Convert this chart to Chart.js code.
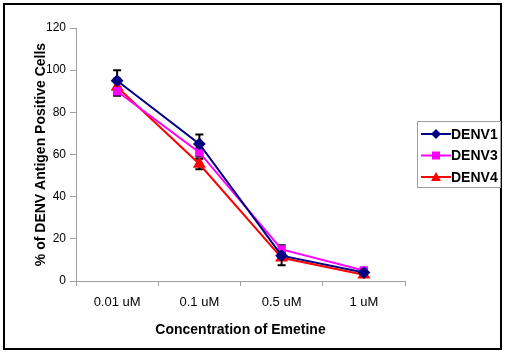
<!DOCTYPE html>
<html>
<head>
<meta charset="utf-8">
<script src="https://cdn.jsdelivr.net/npm/chart.js@4/dist/chart.umd.min.js"></script>
<style>
  body { margin: 0; background: #fff; }
  #wrap { width: 506px; height: 354px; position: relative; }
</style>
</head>
<body>
<div id="wrap"><canvas id="chart" width="506" height="354"></canvas></div>
<script>
const concentrations = ['0.01 uM', '0.1 uM', '0.5 uM', '1 uM'];
const denv1 = [95, 65, 12, 4];
const denv3 = [90, 61, 15, 5];
const denv4 = [92, 55.5, 11, 3];
const denv1Err = [5, 4.5, 2, 1];
const denv3Err = [2, 2, 2, 1];
const denv4Err = [4, 2.5, 3.5, 1];
const yTicks = [0, 20, 40, 60, 80, 100, 120];

const FONT = '"Liberation Sans", Arial, sans-serif';

// error bars, drawn from the scales
const errorBars = {
    id: 'errorBars',
    beforeDatasetsDraw(chart) {
        const ctx = chart.ctx;
        const x = chart.scales.x, y = chart.scales.y;
        ctx.save();
        ctx.strokeStyle = '#000';
        ctx.lineWidth = 2;
        chart.data.datasets.forEach(ds => {
            ds.data.forEach((v, i) => {
                const e = ds.errors[i];
                const px = x.getPixelForValue(i);
                const top = y.getPixelForValue(v + e);
                const bot = y.getPixelForValue(v - e);
                ctx.beginPath();
                ctx.moveTo(px, top); ctx.lineTo(px, bot);
                ctx.moveTo(px - 4, top); ctx.lineTo(px + 4, top);
                ctx.moveTo(px - 4, bot); ctx.lineTo(px + 4, bot);
                ctx.stroke();
            });
        });
        ctx.restore();
    }
};

// outer frame and boxed legend with line + marker
const frameLegend = {
    id: 'frameLegend',
    afterDraw(chart) {
        const ctx = chart.ctx;
        ctx.save();
        ctx.strokeStyle = '#000';
        ctx.lineWidth = 2;
        ctx.strokeRect(4, 4, 497, 345);

        const bx = 417, by = 121, bw = 83, bh = 66;
        ctx.lineWidth = 1;
        ctx.strokeStyle = '#a0a0a0';
        ctx.strokeRect(bx + 0.5, by + 0.5, bw, bh);

        ctx.font = 'bold 14px ' + FONT;
        ctx.textBaseline = 'middle';
        chart.data.datasets.forEach((ds, i) => {
            const cy = by + 13 + i * 21.5;
            ctx.strokeStyle = ds.borderColor;
            ctx.lineWidth = 2;
            ctx.beginPath();
            ctx.moveTo(bx + 4, cy); ctx.lineTo(bx + 34, cy);
            ctx.stroke();
            ctx.fillStyle = ds.borderColor;
            ctx.beginPath();
            const mx = bx + 19;
            if (ds.pointStyle === 'rectRot') {
                ctx.moveTo(mx, cy - 5); ctx.lineTo(mx + 5, cy); ctx.lineTo(mx, cy + 5); ctx.lineTo(mx - 5, cy);
            } else if (ds.pointStyle === 'rect') {
                ctx.rect(mx - 4, cy - 4, 8, 8);
            } else {
                ctx.moveTo(mx, cy - 5); ctx.lineTo(mx + 5, cy + 4); ctx.lineTo(mx - 5, cy + 4);
            }
            ctx.closePath();
            ctx.fill();
            ctx.fillStyle = '#000';
            ctx.fillText(ds.label, bx + 34, cy + 1);
        });
        ctx.restore();
    }
};

new Chart(document.getElementById('chart'), {
    type: 'line',
    data: {
        labels: concentrations,
        datasets: [
            { label: 'DENV1', data: denv1, errors: denv1Err, borderColor: '#000080', backgroundColor: '#000080',
              pointStyle: 'rectRot', pointRadius: 5, borderWidth: 2 },
            { label: 'DENV3', data: denv3, errors: denv3Err, borderColor: '#ff00ff', backgroundColor: '#ff00ff',
              pointStyle: 'rect', pointRadius: 4.5, borderWidth: 2 },
            { label: 'DENV4', data: denv4, errors: denv4Err, borderColor: '#ff0000', backgroundColor: '#ff0000',
              pointStyle: 'triangle', pointRadius: 5.5, borderWidth: 2 }
        ]
    },
    options: {
        responsive: false,
        animation: false,
        layout: { padding: { left: 29, right: 101, top: 28, bottom: 11 } },
        elements: { line: { tension: 0 } },
        plugins: { legend: { display: false }, tooltip: { enabled: false } },
        scales: {
            x: {
                offset: true,
                grid: { offset: true, drawOnChartArea: false, drawTicks: true, tickLength: 5, color: '#a0a0a0' },
                border: { color: '#a0a0a0', width: 1 },
                ticks: { color: '#000', font: { family: FONT, size: 13 }, padding: 9, maxRotation: 0 },
                title: { display: true, text: 'Concentration of Emetine', color: '#000',
                         font: { family: FONT, size: 14, weight: 'bold' }, padding: { top: 10 } },
                afterFit(s) { s.height = 62; }
            },
            y: {
                min: 0, max: 120,
                afterBuildTicks(s) { s.ticks = yTicks.map(v => ({ value: v })); },
                grid: { drawOnChartArea: false, drawTicks: true, tickLength: 6, color: '#a0a0a0' },
                border: { color: '#a0a0a0', width: 1 },
                ticks: { color: '#000', font: { family: FONT, size: 12 }, padding: 4 },
                title: { display: true, text: '% of DENV Antigen Positive Cells', color: '#000',
                         font: { family: FONT, size: 14, weight: 'bold' } },
                afterFit(s) { s.width = 47; }
            }
        }
    },
    plugins: [errorBars, frameLegend]
});
</script>
</body>
</html>
